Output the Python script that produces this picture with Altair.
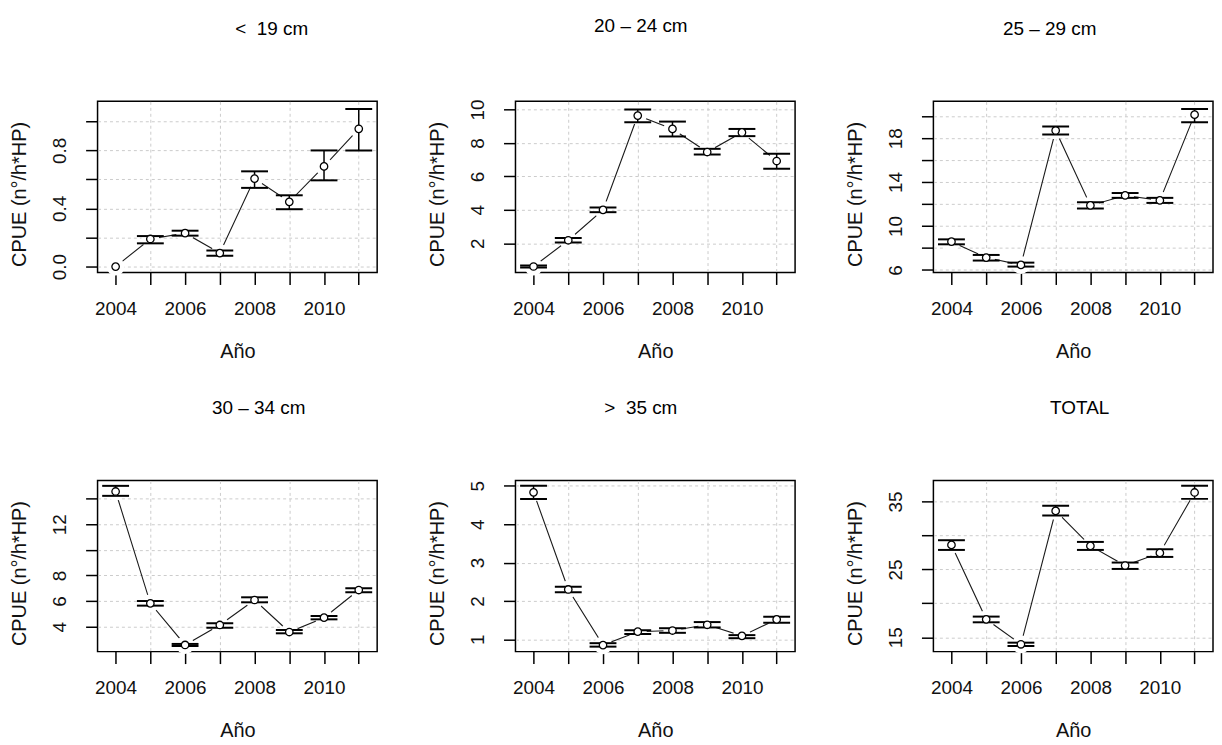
import altair as alt
import pandas as pd

FONT = "Liberation Sans"

years = [2004, 2005, 2006, 2007, 2008, 2009, 2010, 2011]
panel_titles = ["<\u00a0\u00a019\u00a0cm", "20 – 24 cm", "25 – 29 cm",
                "30 – 34 cm", ">\u00a0\u00a035\u00a0cm", "TOTAL"]
y_title = "CPUE (n°/h*HP)"
x_title = "Año"

# < 19 cm
mean_a = [0.0, 0.19, 0.23, 0.093, 0.606, 0.446, 0.69, 0.949]
low_a = [0.0, 0.16, 0.213, 0.075, 0.542, 0.395, 0.594, 0.80]
high_a = [0.0, 0.21, 0.247, 0.11, 0.656, 0.491, 0.80, 1.086]
# 20 - 24 cm
mean_b = [0.61, 2.18, 4.0, 9.64, 8.84, 7.46, 8.63, 6.92]
low_b = [0.55, 2.04, 3.86, 9.24, 8.39, 7.31, 8.41, 6.46]
high_b = [0.67, 2.32, 4.14, 10.0, 9.28, 7.65, 8.84, 7.36]
# 25 - 29 cm
mean_c = [8.57, 7.12, 6.45, 18.7, 11.87, 12.78, 12.33, 20.14]
low_c = [8.33, 6.85, 6.30, 18.33, 11.59, 12.56, 12.10, 19.44]
high_c = [8.78, 7.36, 6.66, 19.05, 12.16, 13.0, 12.56, 20.65]
# 30 - 34 cm
mean_d = [14.55, 5.82, 2.57, 4.13, 6.08, 3.58, 4.70, 6.86]
low_d = [14.21, 5.64, 2.49, 3.92, 5.90, 3.48, 4.57, 6.68]
high_d = [14.99, 6.0, 2.65, 4.26, 6.29, 3.74, 4.83, 7.0]
# > 35 cm
mean_e = [4.83, 2.30, 0.85, 1.20, 1.23, 1.38, 1.09, 1.52]
low_e = [4.66, 2.23, 0.81, 1.14, 1.17, 1.31, 1.03, 1.43]
high_e = [5.0, 2.37, 0.90, 1.24, 1.29, 1.45, 1.11, 1.59]
# TOTAL
mean_f = [28.61, 17.65, 13.97, 33.62, 28.46, 25.57, 27.43, 36.33]
low_f = [27.87, 17.21, 13.72, 32.94, 27.87, 25.07, 26.84, 35.39]
high_f = [29.30, 18.05, 14.21, 34.36, 29.05, 26.01, 27.97, 37.31]

means = [mean_a, mean_b, mean_c, mean_d, mean_e, mean_f]
lows = [low_a, low_b, low_c, low_d, low_e, low_f]
highs = [high_a, high_b, high_c, high_d, high_e, high_f]

x_domain = [2003.48, 2011.53]
y_domains = [[-0.041, 1.138], [0.25, 10.49], [5.76, 21.35],
             [2.05, 15.41], [0.68, 5.14], [12.89, 38.1]]
y_ticks = [[0.0, 0.2, 0.4, 0.6, 0.8, 1.0], [2, 4, 6, 8, 10], [6, 8, 10, 12, 14, 16, 18, 20],
           [4, 6, 8, 10, 12, 14], [1, 2, 3, 4, 5], [15, 20, 25, 30, 35]]
y_labeled = [[0.0, 0.4, 0.8], [2, 4, 6, 8, 10], [6, 10, 14, 18],
             [4, 6, 8, 12], [1, 2, 3, 4, 5], [15, 25, 35]]
y_formats = [".1f", "d", "d", "d", "d", "d"]

# layout (pixels)
title_dx = [34.5, -14.5, -23.5, 21.5, -14.5, 6.5]
PW, PH = 281, 172


def make_panel(k):
    df = pd.DataFrame({"year": years, "mean": means[k], "low": lows[k], "high": highs[k]})
    lab = ",".join(str(v) for v in y_labeled[k])
    x_axis = alt.Axis(values=years, format="d", title=x_title, labelAngle=0,
                      labelExpr="datum.value % 2 == 0 ? datum.label : ''",
                      gridOpacity=alt.condition("datum.value % 2 == 1", alt.value(1), alt.value(0)))
    y_axis = alt.Axis(values=y_ticks[k], format=y_formats[k], title=y_title, labelAngle=270,
                      labelExpr=f"indexof([{lab}], datum.value) >= 0 ? datum.label : ''",
                      titleY=PH / 2 + 7)
    xs = alt.Scale(domain=x_domain, nice=False, zero=False)
    ys = alt.Scale(domain=y_domains[k], nice=False, zero=False)
    X = alt.X("year:Q", scale=xs, axis=x_axis)

    base = alt.Chart(df)
    line = base.mark_line(color="#1a1a1a", strokeWidth=1.1).encode(
        x=X, y=alt.Y("mean:Q", scale=ys, axis=y_axis))
    halo = base.mark_circle(size=330, color="white", opacity=1).encode(
        x=X, y=alt.Y("mean:Q", scale=ys, axis=y_axis))
    bars = base.transform_filter("datum.high > datum.low")
    rule = bars.mark_rule(color="black", strokeWidth=1.5).encode(
        x=X, y=alt.Y("low:Q", scale=ys, axis=y_axis), y2="high:Q")
    cap_lo = bars.mark_tick(orient="horizontal", size=27, thickness=2, color="black", opacity=1).encode(
        x=X, y=alt.Y("low:Q", scale=ys, axis=y_axis))
    cap_hi = bars.mark_tick(orient="horizontal", size=27, thickness=2, color="black", opacity=1).encode(
        x=X, y=alt.Y("high:Q", scale=ys, axis=y_axis))
    pts = base.mark_circle(size=56, fill="white", stroke="black", strokeWidth=1.3, opacity=1).encode(
        x=X, y=alt.Y("mean:Q", scale=ys, axis=y_axis))

    return alt.layer(line, halo, rule, cap_lo, cap_hi, pts).properties(
        width=PW, height=PH,
        title=alt.TitleParams(text=panel_titles[k], dx=title_dx[k], offset=63,
                              anchor="middle", font=FONT, fontSize=19, fontWeight="normal",
                              color="black"))


panels = [make_panel(k) for k in range(6)]

chart = alt.concat(*panels, columns=3, spacing={"row": 209, "column": 139}, bounds="flush").properties(
    padding={"left": 1, "top": 6, "right": 0, "bottom": 0},
    background="white"
).configure_axis(
    labelFont=FONT, titleFont=FONT, labelFontSize=19, titleFontSize=20,
    titleFontWeight="normal", labelColor="#111", titleColor="#111",
    tickColor="black", tickSize=12, tickWidth=1.5, domain=False,
    gridColor="#cccccc", gridDash=[3, 3], gridWidth=1, zindex=1,
    labelOverlap=False, labelFlush=False, labelPadding=15, titlePadding=23
).configure_axisY(
    labelPadding=16, titlePadding=21
).configure_view(
    stroke="black", strokeWidth=1.5
)

chart.save("out.html", embed_options={"renderer": "svg", "actions": False})
